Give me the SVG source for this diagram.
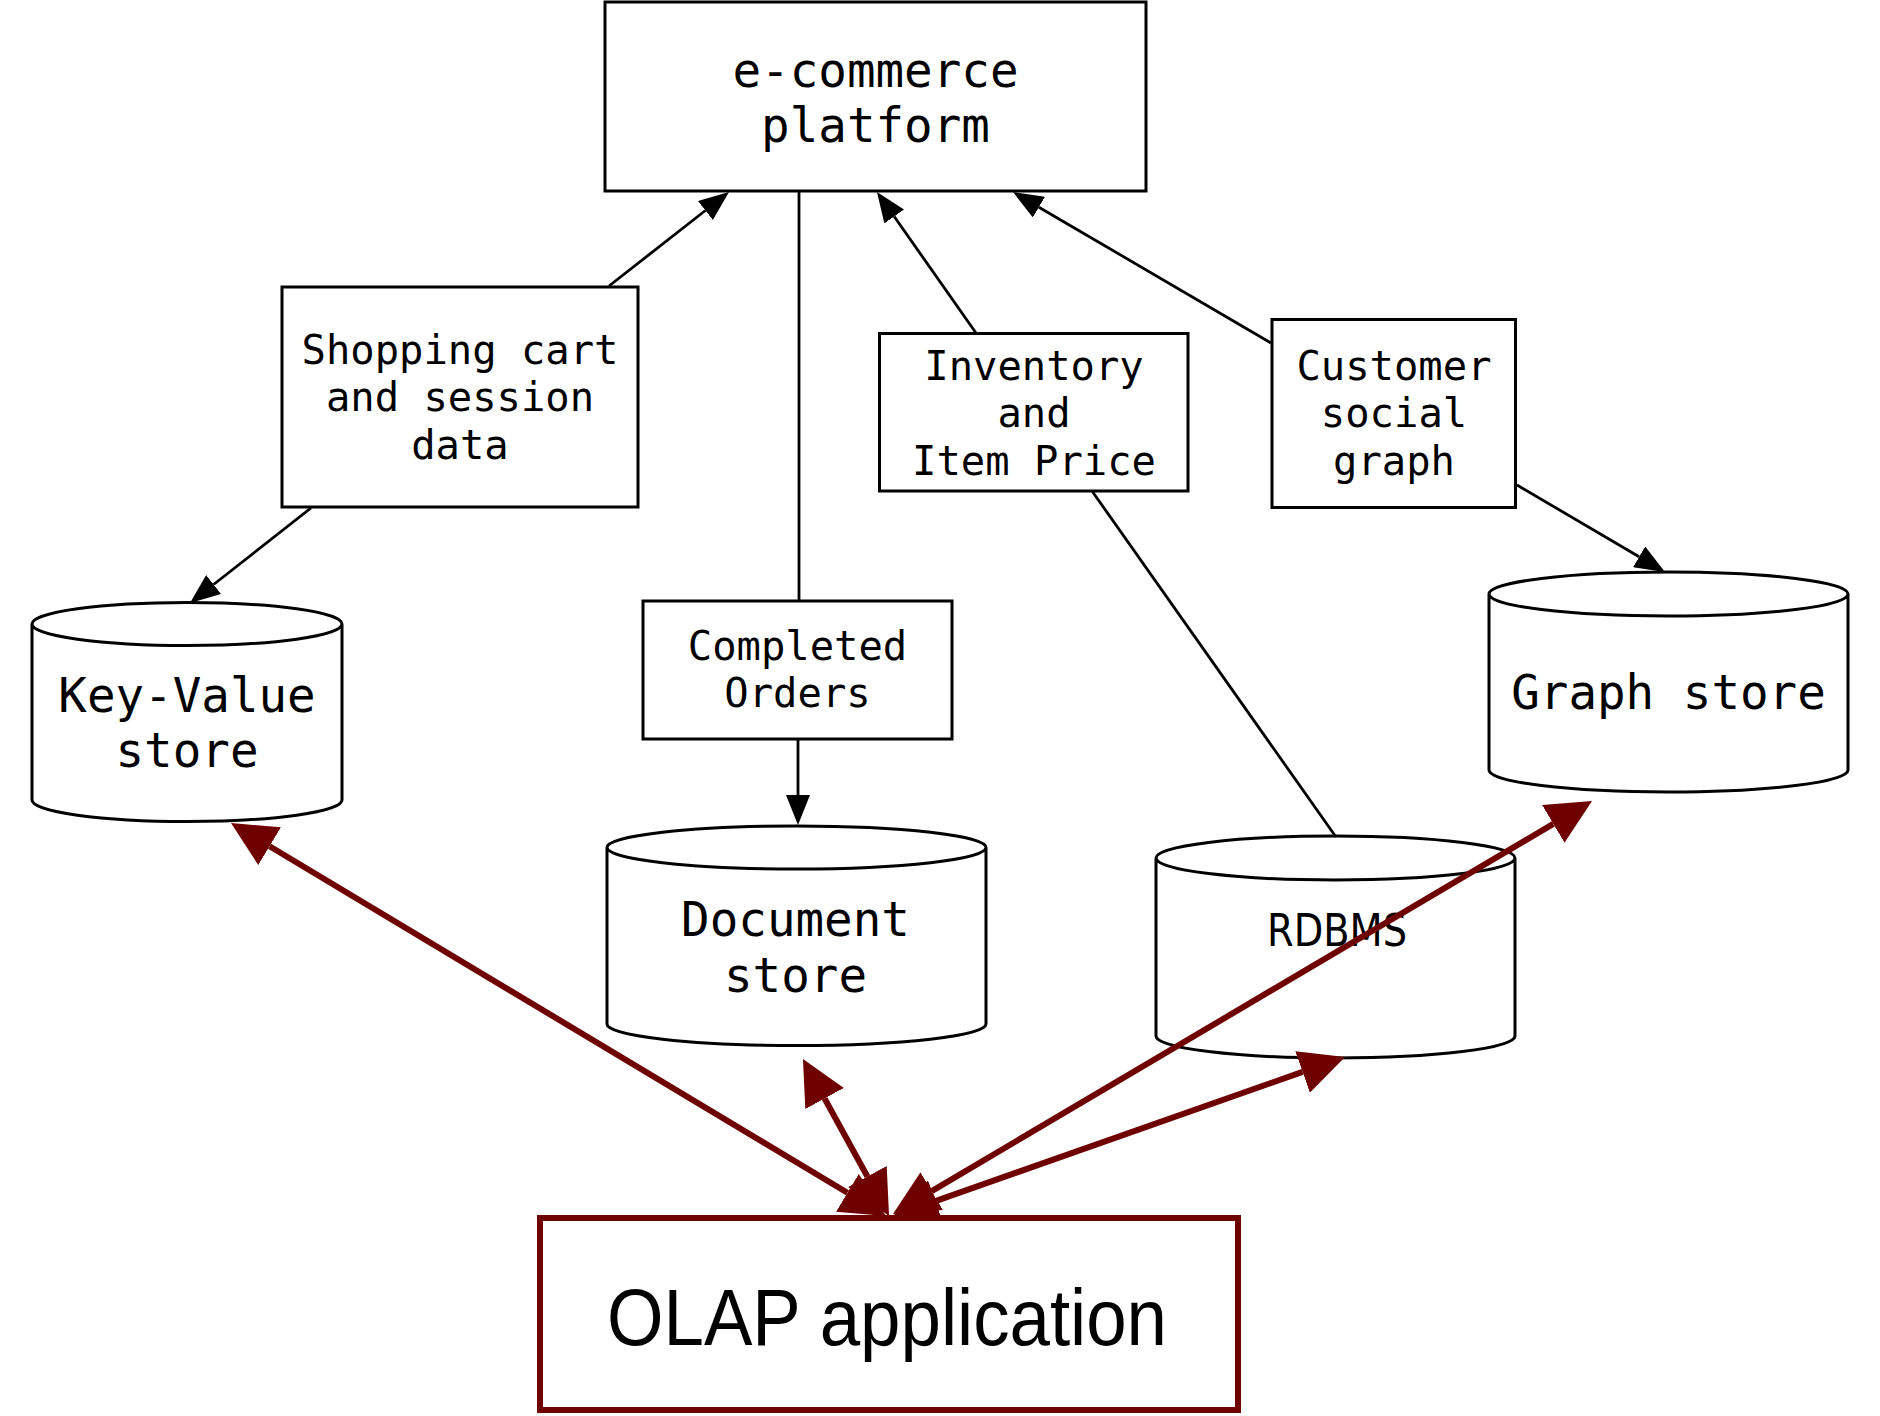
<svg xmlns="http://www.w3.org/2000/svg" width="1880" height="1416" viewBox="0 0 1880 1416">
<style>
.box{fill:#fff;stroke:#000;stroke-width:3}
.cyl{fill:#fff;stroke:#000;stroke-width:3}
.t{font-family:"DejaVu Sans Mono","Liberation Mono",monospace;fill:#000;text-anchor:middle}
.s{font-size:40.5px}
.b{font-size:47.5px}
.e{fill:none;stroke:#000;stroke-width:2.8}
.r{fill:none;stroke:#6e0000;stroke-width:6}
</style>
<defs>
<marker id="ab" viewBox="0 0 30 24" refX="0" refY="12" markerWidth="30" markerHeight="24" orient="auto" markerUnits="userSpaceOnUse">
<path d="M0,0 L30,12 L0,24 z" fill="#000"/>
</marker>
<marker id="ar" viewBox="0 0 45 44" refX="0" refY="22" markerWidth="45" markerHeight="44" orient="auto-start-reverse" markerUnits="userSpaceOnUse">
<path d="M0,0 L45,22 L0,44 z" fill="#6e0000"/>
</marker>
</defs>
<rect width="1880" height="1416" fill="#fff"/>

<g id="ecommerce">
<rect class="box" x="605" y="2" width="541" height="189"/>
<text class="t b" x="875.5" y="87">e-commerce</text>
<text class="t b" x="875.5" y="142">platform</text>
</g>

<g id="shopping">
<rect class="box" x="282" y="287" width="356" height="220"/>
<text class="t s" x="460" y="363.5">Shopping cart</text>
<text class="t s" x="460" y="411">and session</text>
<text class="t s" x="460" y="458.5">data</text>
</g>

<g id="inventory">
<rect class="box" x="879.5" y="333.5" width="308.5" height="157.5"/>
<text class="t s" x="1034" y="379.5">Inventory</text>
<text class="t s" x="1034" y="427">and</text>
<text class="t s" x="1034" y="474.5">Item Price</text>
</g>

<g id="customer">
<rect class="box" x="1272" y="319.5" width="243.5" height="188"/>
<text class="t s" x="1394" y="379.5">Customer</text>
<text class="t s" x="1394" y="427">social</text>
<text class="t s" x="1394" y="474.5">graph</text>
</g>

<g id="completed">
<rect class="box" x="643" y="601" width="309" height="138"/>
<text class="t s" x="797.5" y="660">Completed</text>
<text class="t s" x="797.5" y="707">Orders</text>
</g>

<g id="keyvalue">
<path class="cyl" d="M32,624 L32,800 A155,21.5 0 0 0 342,800 L342,624 A155,21.5 0 0 0 32,624 A155,21.5 0 0 0 342,624"/>
<text class="t b" x="187" y="712">Key-Value</text>
<text class="t b" x="187" y="767">store</text>
</g>

<g id="document">
<path class="cyl" d="M607,847.5 L607,1024 A189.5,21.5 0 0 0 986,1024 L986,847.5 A189.5,21.5 0 0 0 607,847.5 A189.5,21.5 0 0 0 986,847.5"/>
<text class="t b" x="795.5" y="936">Document</text>
<text class="t b" x="795.5" y="992">store</text>
</g>

<g id="rdbms">
<path class="cyl" d="M1156,858 L1156,1036 A179.5,22 0 0 0 1515,1036 L1515,858 A179.5,22 0 0 0 1156,858 A179.5,22 0 0 0 1515,858"/>
<text x="1337" y="946" font-family="DejaVu Sans,Liberation Sans,sans-serif" font-size="45" text-anchor="middle" textLength="140" lengthAdjust="spacingAndGlyphs" fill="#000">RDBMS</text>
</g>

<g id="graphstore">
<path class="cyl" d="M1489,594 L1489,770 A179.5,22 0 0 0 1848,770 L1848,594 A179.5,22 0 0 0 1489,594 A179.5,22 0 0 0 1848,594"/>
<text class="t b" x="1668.5" y="709">Graph store</text>
</g>

<g id="connectors">
<path class="e" d="M609,286 L705.4,210.5" marker-end="url(#ab)"/>
<path class="e" d="M311,508 L213.6,584.5" marker-end="url(#ab)"/>
<path class="e" d="M799,191 L799,601"/>
<path class="e" d="M798,739 L798,795" marker-end="url(#ab)"/>
<path class="e" d="M976,333 L894.2,216.5" marker-end="url(#ab)"/>
<path class="e" d="M1092,491 L1336,837"/>
<path class="e" d="M1271,343 L1038.9,207.2" marker-end="url(#ab)"/>
<path class="e" d="M1517,485 L1639.1,556.8" marker-end="url(#ab)"/>
<path class="r" d="M269.6,846.2 L847.4,1192.8" marker-start="url(#ar)" marker-end="url(#ar)"/>
<path class="r" d="M824.6,1098.5 L867.4,1176.5" marker-start="url(#ar)" marker-end="url(#ar)"/>
<path class="r" d="M1553.3,823.9 L931.7,1191.1" marker-start="url(#ar)" marker-end="url(#ar)"/>
<path class="r" d="M1302.6,1071.9 L935.4,1201.1" marker-start="url(#ar)" marker-end="url(#ar)"/>
</g>

<g id="olap">
<rect x="540" y="1218" width="698" height="192" fill="#fff" stroke="#6e0000" stroke-width="6"/>
<text x="887" y="1345" font-family="Liberation Sans,Arial,sans-serif" font-size="80" text-anchor="middle" textLength="560" lengthAdjust="spacingAndGlyphs" fill="#000">OLAP application</text>
</g>
</svg>
